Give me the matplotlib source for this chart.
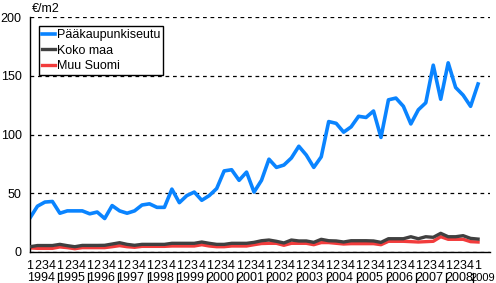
import matplotlib
matplotlib.use('agg')
import matplotlib.pyplot as plt
import matplotlib.transforms as mtransforms

plt.rcParams['font.family'] = ['Liberation Sans', 'DejaVu Sans']
plt.rcParams['font.size'] = 9

years = list(range(1994, 2010))
quarter_labels = ['1', '2', '3', '4'] * 15 + ['1']

# quarterly price per m2, 1994 Q1 .. 2009 Q1
paakaupunkiseutu = [29, 39, 42.5, 43, 33, 35, 35, 35, 32.5, 34, 28.5, 39.5,
                    35, 33, 35, 40, 41, 38, 38, 53.5, 42, 48, 51, 44,
                    48, 54, 69, 70, 61, 68, 51, 61, 79, 72, 74, 80,
                    90, 82.5, 72, 81, 111, 109.5, 102, 106.5, 115.5, 114.5, 120, 97.5,
                    129.5, 131, 124, 109, 121, 127, 159, 130, 161, 140, 133.5, 124,
                    143]
koko_maa = [4.5, 5.5, 5.5, 5.5, 6.5, 5.4, 4.5, 5.6, 5.6, 5.6, 5.7, 6.8,
            7.9, 6.5, 5.7, 6.5, 6.5, 6.5, 6.5, 7.4, 7.4, 7.4, 7.4, 8.5,
            7.4, 6.5, 6.5, 7.4, 7.4, 7.4, 8.2, 9.6, 10.2, 9.1, 7.7, 10.2,
            9.4, 9.4, 8.2, 10.8, 9.6, 9.4, 8.5, 9.6, 9.6, 9.6, 9.4, 8.2,
            11.3, 11.3, 11.3, 13, 11.3, 13, 12.5, 15.9, 13, 13, 13.9, 11.6,
            11]
muu_suomi = [3.5, 3.1, 3.1, 3.1, 4.3, 3.7, 2.8, 3.7, 3.7, 3.7, 3.7, 4.5,
             5.4, 4.5, 4.0, 4.8, 4.8, 4.8, 4.8, 5.1, 5.1, 5.1, 5.1, 6.2,
             5.1, 4.5, 4.5, 5.1, 5.1, 5.1, 6.2, 7.2, 7.4, 7.4, 5.7, 7.4,
             7.4, 7.4, 6.2, 8, 8, 7.4, 6.8, 7.1, 7.1, 7.1, 7.1, 6.2,
             9.1, 9.1, 9.1, 8.8, 8.5, 8.8, 9.1, 13, 10.8, 10.8, 10.8, 8.8,
             8.5]

x = list(range(len(paakaupunkiseutu)))

fig = plt.figure(figsize=(4.96, 2.83), dpi=100)
ax = fig.add_axes([30 / 496, 1 - 252 / 283, 460 / 496, 235 / 283])

ax.plot(x, paakaupunkiseutu, color='#0a84ff', lw=2.6, label='Pääkaupunkiseutu')
ax.plot(x, muu_suomi, color='#f23c3c', lw=2.4, label='Muu Suomi', zorder=2)
ax.plot(x, koko_maa, color='#404040', lw=2.4, label='Koko maa', zorder=3)

ax.set_xlim(0, 61.6)
ax.set_ylim(0, 200)
ax.set_yticks([0, 50, 100, 150, 200])
ax.yaxis.grid(True, color='black', linestyle=(0, (3, 3)), lw=0.9)
ax.set_axisbelow(True)
for s in ['top', 'right']:
    ax.spines[s].set_visible(False)
ax.spines['left'].set_linewidth(1.0)
ax.spines['bottom'].set_linewidth(1.0)

ax.set_xticks(x)
ax.set_xticklabels(quarter_labels)
ax.tick_params(axis='x', length=0, pad=6)
ax.tick_params(axis='y', length=0, pad=6)

trans = mtransforms.blended_transform_factory(ax.transData, ax.transAxes)
for k, yr in enumerate(years):
    bar_x = 4 * k - 0.25
    if yr < 2009:
        ax.text(4 * k + 1.45, -0.111, str(yr), transform=trans, ha='center',
                va='center', clip_on=False)
    else:
        bar_x = 59.3
        fig.text(495.5 / 496, 1 - 278 / 283, str(yr), ha='right', va='center',
                 fontsize=8)
    if k > 0:
        ax.plot([bar_x, bar_x], [-0.09, -0.14], color='black',
                lw=0.9, transform=trans, clip_on=False)

fig.text(32 / 496, 1 - 9 / 283, '€/m2', ha='left', va='center')

h, l = ax.get_legend_handles_labels()
order = [0, 2, 1]
leg = ax.legend([h[i] for i in order], [l[i] for i in order],
                loc='upper left', bbox_to_anchor=(0.02, 0.96), frameon=True,
                fancybox=False, edgecolor='black', framealpha=1,
                handlelength=1.1, handletextpad=0.1, labelspacing=0.3,
                borderpad=0.2, borderaxespad=0)
leg.get_frame().set_linewidth(1.0)

fig.savefig('out.png', dpi=100)
